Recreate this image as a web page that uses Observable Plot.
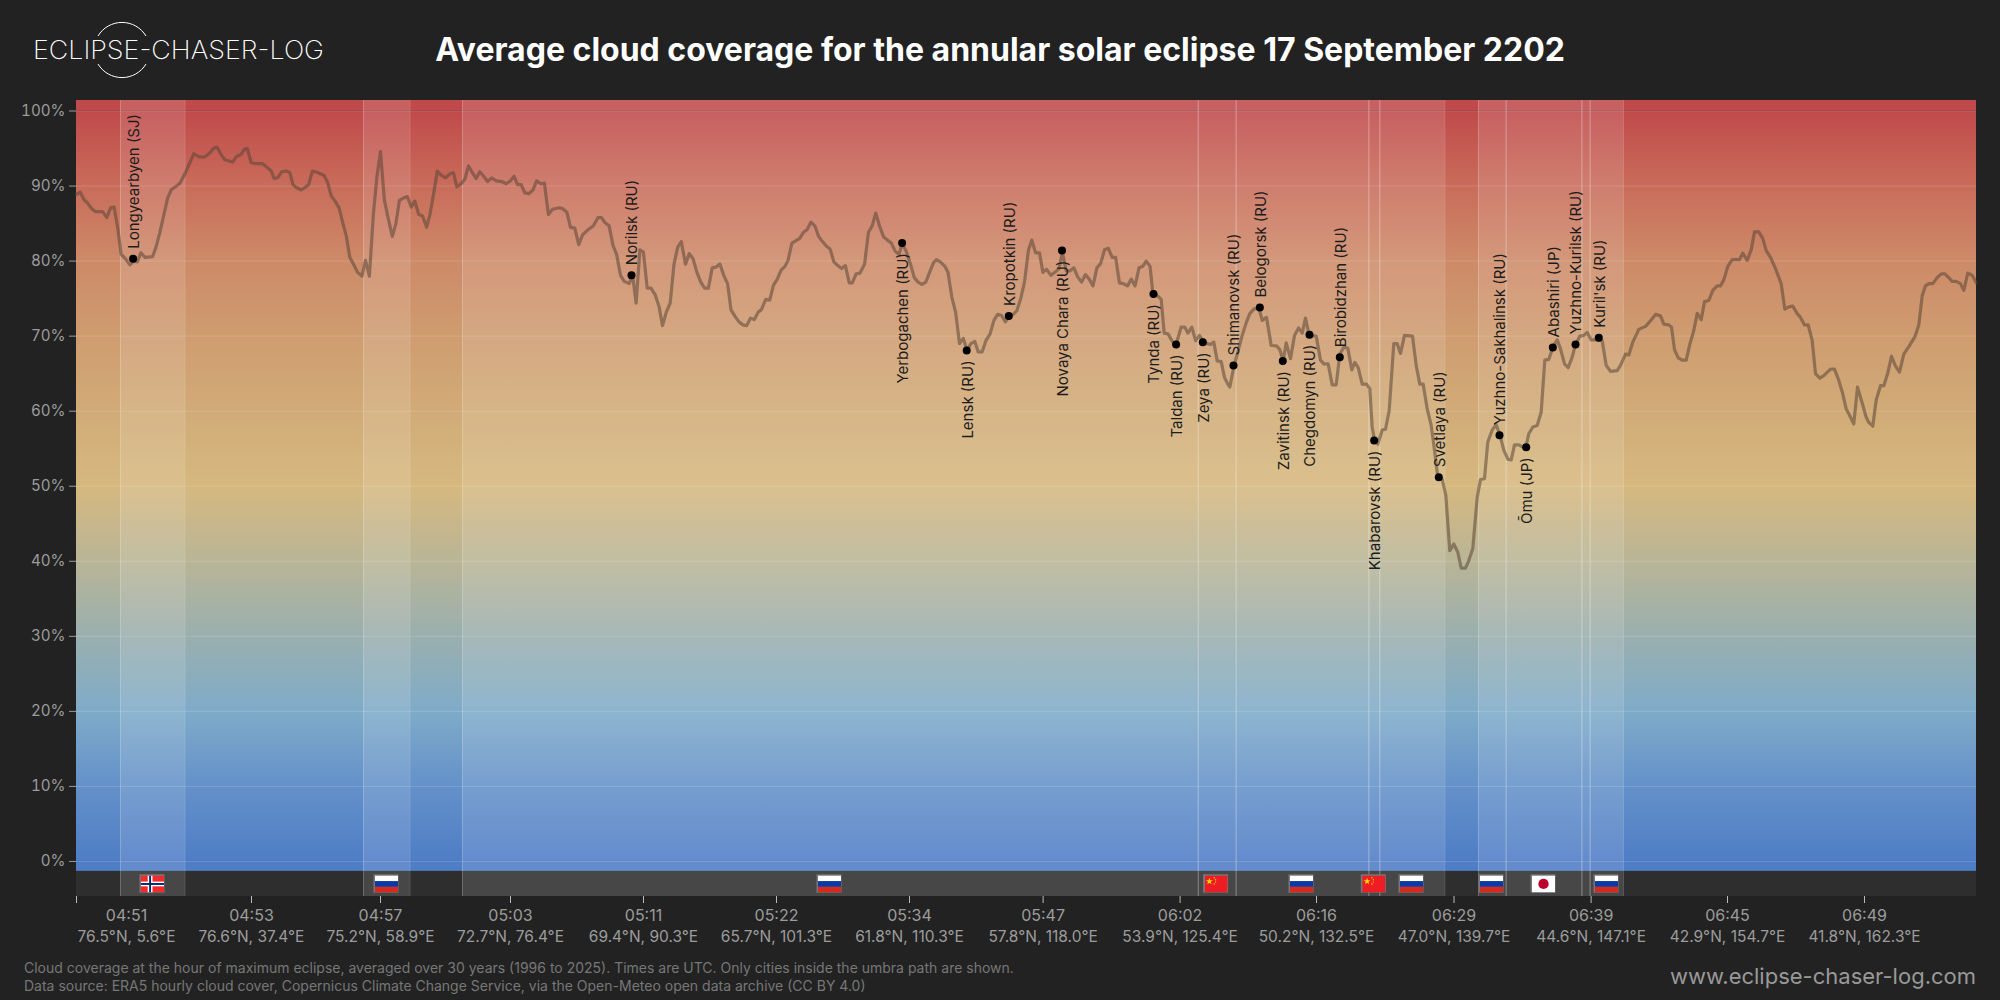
<!DOCTYPE html>
<html><head><meta charset="utf-8">
<script src="https://cdn.jsdelivr.net/npm/d3@7"></script>
<script src="https://cdn.jsdelivr.net/npm/@observablehq/plot@0.6"></script>
<style>
html,body{margin:0;padding:0;background:#222222;width:2000px;height:1000px;overflow:hidden;font-family:Inter,sans-serif}
#head{position:relative;height:90px;width:2000px}
#title{position:absolute;left:0;width:2000px;top:28px;text-align:center;color:#fff;font:700 32px/44px Inter,sans-serif;white-space:nowrap}
#logo{position:absolute;left:0;top:0}
#foot{position:relative;height:40px;width:2000px}
#note{position:absolute;left:24px;top:-1px;color:#777;font:400 14px/18px Inter,sans-serif;white-space:pre}
#site{position:absolute;right:24px;top:2px;color:#999;font:400 22px/28px Inter,sans-serif}
#chart svg{display:block}
</style></head><body>
<div id="head">
<svg id="logo" width="400" height="90"><path d="M98 36A28 28 0 0 1 146 36M98 64A28 28 0 0 0 146 64" fill="none" stroke="#fff" stroke-width="1"/><text x="33" y="59" fill="#fff" font-family="Inter" font-weight="200" font-size="26" textLength="291" lengthAdjust="spacingAndGlyphs">ECLIPSE-CHASER-LOG</text></svg>
<div id="title">Average cloud coverage for the annular solar eclipse 17 September 2202</div>
</div>
<div id="chart"></div>
<div id="foot">
<div id="note">Cloud coverage at the hour of maximum eclipse, averaged over 30 years (1996 to 2025). Times are UTC. Only cities inside the umbra path are shown.
Data source: ERA5 hourly cloud cover, Copernicus Climate Change Service, via the Open-Meteo open data archive (CC BY 4.0)</div>
<div id="site">www.eclipse-chaser-log.com</div>
</div>
<script>
// position along the eclipse track (arbitrary units) and mean cloud cover (%)
const trackPos = [0,3.6,7.9,10.8,15.1,18.6,26.1,30.4,34,37.6,41.1,44.7,49,53.3,57.6,60.8,64.4,68.6,76.1,79.4,83.3,87.6,91.1,94.7,100.1,103.6,109,117.2,122.6,128.6,133.3,136.9,140.4,144.7,148.3,156.1,159.7,164.4,167.9,170.8,174.7,178.6,185.8,190.4,194.7,197.6,201.1,205.4,209.7,213.3,216.5,219.7,224.4,228.6,232.2,235.8,241.1,247.6,251.1,254.7,259,262.6,266.1,269.7,273.3,276.9,281.1,285.4,289,292.9,296.9,300.4,304,307.9,311.9,315.8,319.4,322.9,326.9,330.8,334.7,338.3,342.2,346.1,350.1,353.6,357.2,360.8,364.4,369,373.3,376.9,380.4,384.7,388.3,391.9,395.8,399.7,403.3,407.2,411.1,415.1,419.7,425.1,429.7,434,437.6,441.1,444.7,448.3,452.6,456.5,460.1,464.4,467.9,471.9,476.1,482.6,485.8,490.4,494,498.3,502.2,506.1,510.8,516.9,521.5,525.1,528.6,532.6,536.5,540.1,544,
547.7,552.7,556.1,559.6,563.4,566.9,570.7,574.5,578.7,582.6,586,589.8,593.7,597.5,601.3,604.8,609,612.8,616.6,620.4,624.3,628.1,631.9,635.7,639.6,643.4,647.2,651.1,654.5,658.7,662.5,666.4,670.2,674,677.8,681.7,684.7,689.3,693.2,697,700.8,704.6,708.5,711.5,715.4,719.2,723,726.8,730.7,734.5,738.3,742.1,746,749.8,753.6,757.4,761.3,765.1,768.9,772.8,775.8,779.6,783.5,788.1,791.9,795.7,799.2,803,807.2,811.8,814.9,818.7,822.5,825.6,829.4,834,837.8,841.6,845.5,849.3,853.1,857,860,863.8,868.4,871.5,875.3,879.1,883,886.8,890.6,894.4,898.3,901.7,905.6,909.4,913.6,917.4,921.2,925.1,928.9,932.3,936.6,940.4,944.2,948,951.9,955.3,959.1,963,966.4,970.2,974.4,978.3,982.5,985.9,989.7,993.6,997.4,1001.2,1005.1,1008.9,1012.7,1016.5,1020.4,1024.2,1028,1031.8,1035.7,1039.1,1042.9,1046.8,1051,1054.8,1058.6,1062.5,1066.3,1069.7,1073.6,1076.2,1080.1,1084.7,1087.7,1091.5,1095.4,1099.2,1104.6,1108.4,1111.4,1115.3,1119.1,1122.9,
1126.3,1130.7,1134,1137.3,1140.7,1144.7,1148,1151.3,1153.3,1157.3,1161.3,1165.7,1170,1173.3,1177.3,1182.3,1185.7,1190,1194.7,1200,1203.3,1206.7,1209.7,1214,1218,1222,1225.7,1229,1232.7,1239.7,1244,1247.3,1251.7,1255.7,1259.7,1263.3,1267.3,1271.3,1275.3,1278.3,1281.7,1285.7,1290,1293.3,1295.7,1298,1301.3,1305.7,1309,1312.7,1317.3,1320.7,1324,1328,1336,1339.7,1343.3,1346.7,1350.7,1354.7,1358,1361.3,1365.7,1369.3,1373.3,1377.3,1381.3,1384.7,1389,1392.3,1396.3,1400.7,1404,1408,1411.3,1415.7,1419.7,1423,1427.3,1431.3,1434.7,1438,1442.3,1449,1452.3,1456.3,1460.7,1464.7,1468.3,1472.3,1476.3,1480.7,1484,1488,1491.7,1495.7,1499,1503.3,1507.3,1510.7,1514.7,1520.7,1525.7,1529.7,1534,1540.7,1544,1549,1552.3,1556.3,1562.3,1569,1573,
1579,1584,1587.3,1592.3,1595,1598,1601.7,1605.7,1609.7,1613.3,1617.3,1620.7,1624.7,1628,1632.3,1636.3,1640.7,1644,1647.3,1651.3,1655.7,1663,1666.3,1670.7,1674.7,1678,1682.3,1686.3,1689.7,1694,1699,1704.7,1708.3,1712.3,1716.3,1720.7,1724,1728,1731.7,1735.7,1739,1743.3,1747.3,1754,1758,1762.3,1765.7,1769.7,1773.3,1777.3,1781,1785,1789.7,1792.3,1796.3,1799.7,1804,1807.3,1811.3,1815,1819,1823,1827.3,1832.3,1838.3,1842.3,1845.7,1849,1852.3,1856.3,1860.7,1864.7,1868.3,1872.3,1875.7,1879.7,1884,1887.3,1891.3,1895.7,1899.7];
const cloudPct = [88.9,89.2,88.1,87.8,87,86.6,86.6,85.8,87.1,87.2,84.5,80.9,80.3,79.5,80,79.9,81.1,80.5,80.6,81.8,83.8,86.3,88.4,89.5,90,90.4,91.8,94.3,93.9,93.9,94.4,95,95.2,94.2,93.5,93.2,93.9,94.2,94.9,95,93.1,93,93,92.5,92,91,91.1,91.9,92,91.8,90.2,89.8,89.5,89.8,90.2,92,91.8,91.4,90.5,88.7,87.9,87.1,85.2,83.4,80.5,79.6,78.5,78,80.1,78,86.3,91.2,94.6,88.1,85.6,83.3,85,88.1,88.4,88.6,87.2,88,86.2,86,84.5,86.3,89,92,91.5,91.1,91.6,91.8,89.9,90.3,90.9,92.7,91.8,91,91.9,91.3,90.6,91.1,90.7,90.6,90.3,90.7,91.3,90.2,90.2,89.1,89,89.5,90.7,90.3,90.4,86.2,86.9,87.1,87,86.5,84.5,84.4,82.2,83.5,84.1,84.7,85.8,85.8,85.1,84.7,82.1,80.9,78.1,
77.3,77,78.1,74.4,81.5,81.2,76.4,76.4,75.5,73.9,71.4,73.2,74.4,79.6,81.9,82.6,79.6,81,80.3,78.5,77.2,76.4,76.4,79.1,79.2,79.6,78.1,77,73.5,72.6,71.9,71.5,71.4,72.4,72.2,73.2,73.5,74.9,74.8,76.8,77.6,78.8,79.3,80.1,82.4,82.7,83,83.8,84.2,85.2,84.7,83.3,82.6,82,81.6,79.9,79.4,79,79.4,77.1,77.1,78.3,78.4,79.6,83.8,84.7,86.4,84.7,83.2,82.7,82.4,81.3,80.9,82.3,81.4,79.6,77.8,77.2,76.9,77.2,78.5,79.8,80.2,79.9,79.3,78.5,75.2,73.2,69,69.7,68.1,69,69.3,67.9,67.9,69.4,70.3,72.1,72.9,72.75,71.9,72.5,72.9,73.4,75,77.2,81.4,82.8,81.1,81.1,78.5,78.9,78.1,78.5,79,81.2,78.7,78.7,79.1,77.9,77.2,78.2,77.6,76.7,79.1,79.7,81.5,81.7,80.5,80.5,77.1,77,76.7,77.6,76.7,79.1,79.3,80,79.3,75.9,75.5,74.9,70.4,70.3,69.4,68.7,71.2,71.2,70.4,71.2,69.4,70.1,
69.4,69,68.9,69.2,66.7,66.6,64.5,63.6,63.2,65.9,67.9,70.1,71.9,73,73.6,73.8,72.1,72.5,68.75,68.7,68.2,66.75,69.1,67,70.1,71.1,70.4,72.4,70.1,70,66.8,66.3,66.3,63.5,63.5,67.6,68.5,68.4,65.5,66.5,65.8,63.6,63.6,63,57.9,56.1,55.6,57.5,57.6,60.1,69,69,67.7,70.1,70,66.1,63.6,63.6,60.3,58.1,54.8,51.2,50.9,48.8,41.4,42.3,41.2,39.1,39.1,40.1,41.7,48.5,50.9,51,55.9,57.5,58.2,57,54.8,53.6,53.5,55.5,55.5,55,57,57.9,58.1,59.9,66.8,66.9,68.5,69.5,68.3,66.3,65.8,67.2,68.9,70,70.1,70.5,69.5,69.5,69.4,66.1,65.3,65.4,66.1,67.6,67.5,69.2,70.9,71.3,71.9,
72.9,72.7,71.6,71.5,71.2,68.2,67.1,66.8,66.8,68.9,70.75,73.05,72.2,74.6,74.75,76.1,76.7,76.7,77.5,79.3,80.2,80.2,81.05,80.1,81.5,83.9,83.9,83,81.4,80.5,79,77,73.6,73.9,74,73,72.5,71.5,71.5,69.4,65,64.4,64.75,65.6,65.6,64.1,62.6,60.3,59.4,58.3,63.2,61.4,59.2,58.5,58,61.5,63.4,63.4,65.1,67.3,66,65.2,67.6,68.6,69.9,71.5,75.4,76.7,77,77,77.8,78.3,78.3,77.8,77.3,77.3,77,76.1,78.4,78.1,77.1];

const cityNames = ["Longyearbyen (SJ)","Norilsk (RU)","Yerbogachen (RU)","Lensk (RU)","Kropotkin (RU)","Novaya Chara (RU)","Tynda (RU)","Taldan (RU)","Zeya (RU)","Shimanovsk (RU)","Belogorsk (RU)","Zavitinsk (RU)","Chegdomyn (RU)","Birobidzhan (RU)","Khabarovsk (RU)","Svetlaya (RU)","Yuzhno-Sakhalinsk (RU)","Ōmu (JP)","Abashiri (JP)","Yuzhno-Kurilsk (RU)","Kuril'sk (RU)"];
const cityPos = [56.6,555,825.6,890.2,932.3,985.5,1077,1099.6,1126.3,1157,1183.3,1206.3,1233,1263.3,1297.7,1362.3,1423,1449.7,1476.3,1499,1522.3];
const cityPct = [80.3,78.1,82.4,68.1,72.7,81.4,75.6,68.9,69.2,66.1,73.8,66.7,70.2,67.2,56.1,51.2,56.8,55.2,68.5,68.9,69.8];
const cityLabelUp = [1,1,0,0,1,0,0,0,0,1,1,0,0,1,0,1,1,0,1,1,1];

const bandStart = [44,287,386,1121.7,1159.6,1292.4,1303.3,1402,1429.6,1505.4,1513.6];
const bandEnd = [108.4,333.4,1121.7,1159.6,1292.4,1303.3,1368.3,1429.6,1505.4,1513.6,1547];

const flagCodes = ["NO","RU","RU","CN","RU","CN","RU","RU","JP","RU"];
const flagPos = [76,310,753,1139.6,1225,1297.3,1335,1415,1467,1530];

const tickPos = [0,175,304,434,567,700,833,966.6,1103.6,1240,1377.5,1514.6,1651,1788];
const labelPos = [50,175,304,434,567,700,833,966.6,1103.6,1240,1377.5,1514.6,1651,1788];
const tickTimes = ["04:51","04:53","04:57","05:03","05:11","05:22","05:34","05:47","06:02","06:16","06:29","06:39","06:45","06:49"];
const tickCoords = ["76.5°N, 5.6°E","76.6°N, 37.4°E","75.2°N, 58.9°E","72.7°N, 76.4°E","69.4°N, 90.3°E","65.7°N, 101.3°E","61.8°N, 110.3°E","57.8°N, 118.0°E","53.9°N, 125.4°E","50.2°N, 132.5°E","47.0°N, 139.7°E","44.6°N, 147.1°E","42.9°N, 154.7°E","41.8°N, 162.3°E"];
const yTicks = [0,10,20,30,40,50,60,70,80,90,100];

const gradPct = [0,10,20,30,40,50,60,70,80,90,100];
const gradColor = ["#4f7dc6","#6491c9","#7fabc9","#9aafae","#b9b596","#d6b87f","#d1ab77","#cf9c70","#cd8a68","#c96c5a","#c04a4b"];

const flagSvg = {
 RU:'<rect width="24" height="6" fill="#fff"/><rect y="6" width="24" height="6" fill="#0a3aa8"/><rect y="12" width="24" height="6" fill="#d52b1e"/>',
 NO:'<rect width="24" height="18" fill="#ef2b2d"/><rect x="7" width="5" height="18" fill="#fff"/><rect y="6.5" width="24" height="5" fill="#fff"/><rect x="8.5" width="2" height="18" fill="#002868"/><rect y="8" width="24" height="2" fill="#002868"/>',
 CN:'<rect width="24" height="18" fill="#ee1c25"/><path d="M5 2.4l.9 2.6h2.7l-2.2 1.6.8 2.6L5 7.6 2.8 9.2l.8-2.6L1.4 5h2.7z" fill="#ffde00"/><circle cx="10" cy="2.4" r=".7" fill="#ffde00"/><circle cx="11.5" cy="4.5" r=".7" fill="#ffde00"/><circle cx="11.5" cy="7" r=".7" fill="#ffde00"/><circle cx="10" cy="9" r=".7" fill="#ffde00"/>',
 JP:'<rect width="24" height="18" fill="#fff"/><circle cx="12" cy="9" r="5.4" fill="#bc002d"/>'
};
const flagUri = c => "data:image/svg+xml," + encodeURIComponent('<svg xmlns="http://www.w3.org/2000/svg" width="24" height="18" viewBox="0 0 24 18">' + flagSvg[c] + '</svg>');

const X0 = 0, X1 = 1900, YB = -4.67, YS = -1.33, YT = 101.4;
const series = trackPos.map((x,i)=>({x,y:cloudPct[i]}));
const cities = cityNames.map((name,i)=>({name,x:cityPos[i],y:cityPct[i],up:cityLabelUp[i]}));
const bands = bandStart.map((a,i)=>({a,b:bandEnd[i]}));
const flags = flagCodes.map((c,i)=>({x:flagPos[i],src:flagUri(c)}));
const labels = labelPos.map((x,i)=>({x,t:tickTimes[i],c:tickCoords[i]}));

function gradientDefs(){
  const defs = d3.create("svg:defs");
  const g = defs.append("linearGradient").attr("id","cloudGrad").attr("x1",0).attr("x2",0).attr("y1",1).attr("y2",0);
  g.selectAll("stop").data(gradPct).join("stop")
    .attr("offset",d=>d+"%").attr("stop-color",(d,i)=>gradColor[i]);
  return defs.node();
}

const plot = Plot.plot({
  width:2000,height:870,marginTop:10,marginBottom:64,marginLeft:76,marginRight:24,
  style:{background:"transparent",color:"#9c9c9c",fontFamily:"Inter, sans-serif",fontSize:"16px",overflow:"visible"},
  x:{domain:[X0,X1]},
  y:{domain:[YB,YT]},
  marks:[
    gradientDefs,
    Plot.rect([0],{x1:X0,x2:X1,y1:YS,y2:0,fill:"#4f7dc6"}),
    Plot.rect([0],{x1:X0,x2:X1,y1:0,y2:100,fill:"url(#cloudGrad)"}),
    Plot.rect([0],{x1:X0,x2:X1,y1:100,y2:YT,fill:"#c04a4b"}),
    Plot.rect([0],{x1:X0,x2:X1,y1:YB,y2:YS,fill:"#2e2e2e"}),
    Plot.rect(bands,{x1:"a",x2:"b",y1:YB,y2:YT,fill:"#fff",fillOpacity:0.12,stroke:"none",inset:0}),
    Plot.ruleX(bands,{x:"a",y1:YB,y2:YT,stroke:"#fff",strokeOpacity:0.2,strokeWidth:1}),
    Plot.ruleX(bands,{x:"b",y1:YB,y2:YT,stroke:"#fff",strokeOpacity:0.2,strokeWidth:1}),
    Plot.ruleY(yTicks,{x1:X0,x2:X1,stroke:"#fff",strokeOpacity:0.15,strokeWidth:1}),
    Plot.axisY({ticks:yTicks,label:null,tickFormat:d=>d+"%",tickSize:7,tickPadding:4,fontSize:15.2,stroke:"#9c9c9c",fill:"#9c9c9c"}),
    Plot.axisX({ticks:tickPos,label:null,tickFormat:()=>"",tickSize:7,stroke:"#bbb"}),
    Plot.text(labels,{x:"x",y:YB,text:"t",dy:19,fill:"#9c9c9c",fontSize:16,lineAnchor:"middle"}),
    Plot.text(labels,{x:"x",y:YB,text:"c",dy:41,fill:"#9c9c9c",fontSize:15.5,lineAnchor:"middle"}),
    Plot.line(series,{x:"x",y:"y",stroke:"#5a4636",strokeOpacity:0.55,strokeWidth:3.2,strokeLinejoin:"round"}),
    Plot.dot(cities,{x:"x",y:"y",r:4,fill:"#000",stroke:"none"}),
    Plot.text(cities.filter(d=>d.up),{x:"x",y:"y",text:"name",rotate:-90,textAnchor:"start",lineAnchor:"middle",dx:1,dy:-10,fill:"#1c1c1c",fontSize:15}),
    Plot.text(cities.filter(d=>!d.up),{x:"x",y:"y",text:"name",rotate:-90,textAnchor:"end",lineAnchor:"middle",dx:1,dy:10,fill:"#1c1c1c",fontSize:15}),
    Plot.rect(flags,{x1:d=>d.x-12.5,x2:d=>d.x+12.5,y1:-1.78,y2:-4.22,fill:"#777",stroke:"none"}),
    Plot.image(flags,{x:"x",y:-3,src:"src",width:23,height:17,preserveAspectRatio:"none"})
  ]
});
document.getElementById("chart").append(plot);
</script>
</body></html>
